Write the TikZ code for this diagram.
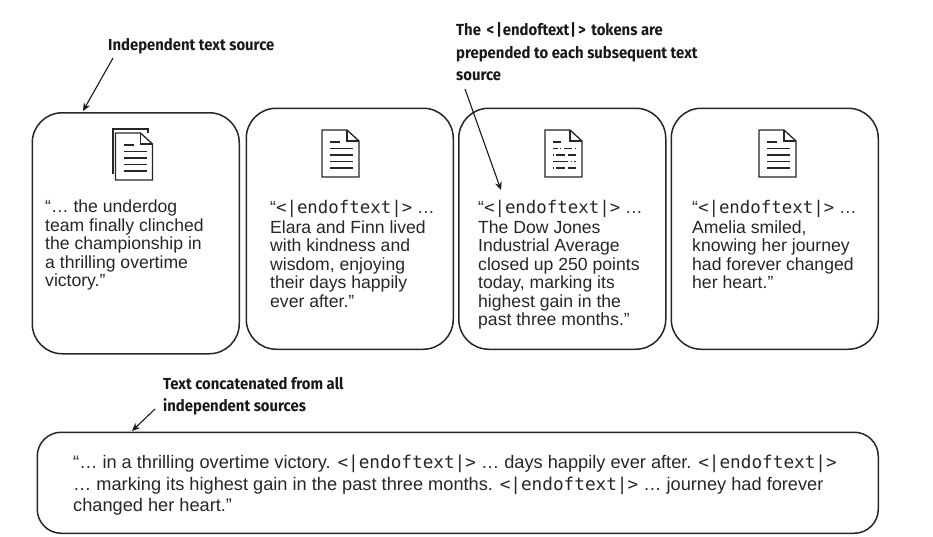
\documentclass[tikz,border=0pt]{standalone}
\usepackage{fontspec}
\setmainfont{Liberation Sans}
\setmonofont{DejaVu Sans Mono}
\newfontfamily\labelfont[BoldFont=* Bold,BoldFeatures={FakeStretch=0.93}]{Fira Sans}
\usetikzlibrary{arrows.meta}
\newcommand{\tok}{{\ttfamily\fontsize{17.4}{18.5}\selectfont <|endoftext|>}}
\newcommand{\tokb}{{\ttfamily\fontsize{17.7}{18.5}\selectfont <|endoftext|>}}
\newcommand{\tokl}{\kern2pt<\kern2pt|\kern1pt endoftext\kern1pt|\kern2pt>\kern2pt}
\tikzset{
  srcbox/.style={draw=black!85,line width=1.5pt,rounded corners=30pt,inner sep=0pt,minimum width=207pt,minimum height=241pt,anchor=north west},
  bodytext/.style={anchor=north west,inner sep=0pt,align=left,text=black!85,font=\fontsize{17.6}{18.5}\selectfont},
  notetext/.style={anchor=north west,inner sep=0pt,align=left,text=black!90,font=\labelfont\bfseries\fontsize{16}{22.5}\selectfont},
  callout/.style={draw=black!90,line width=1.1pt,-{Stealth[length=8pt,width=7pt]}},
  docline/.style={draw=black!85,line width=1.2pt},
  pics/docicon/.style={code={
    \draw[docline,fill=white,line width=1.3pt] (0,0) -- (25,0) -- (37,11) -- (37,47) -- (0,47) -- cycle;
    \draw[docline,line width=1.3pt] (25,0) -- (25,11) -- (37,11);
  }},
  pics/plainlines/.style={code={
    \draw[docline] (8,12) -- (18,12);
    \foreach \yy in {18.5,25,31.5,38}{\draw[docline] (8,\yy) -- (31,\yy);}
  }},
  pics/dashlines/.style={code={
    \draw[docline] (8,12) -- (16,12);
    \draw[docline] (8,18.5) -- (13,18.5) (15,18.5) -- (16,18.5) (19,18.5) -- (27,18.5) (30,18.5) -- (31,18.5);
    \draw[docline] (8,25) -- (9,25) (11,25) -- (20,25) (23,25) -- (31,25);
    \draw[docline] (8,31.5) -- (23,31.5) (26,31.5) -- (27,31.5) (29,31.5) -- (31,31.5);
    \draw[docline] (8,38) -- (9,38) (11,38) -- (20,38) (23,38) -- (31,38);
  }}
}
\begin{document}
\begin{tikzpicture}[x=1pt,y=-1pt]
\useasboundingbox (0,0) rectangle (933,536);
% boxes
\node[srcbox] (boxa) at (31.5,112) {};
\node[srcbox] (boxb) at (245.5,107.5) {};
\node[srcbox] (boxc) at (458,107.5) {};
\node[srcbox] (boxd) at (670.5,107.5) {};
\node[srcbox,minimum width=841pt,minimum height=101pt,rounded corners=24pt] (boxe) at (36.5,431.5) {};
% icons
\draw[docline,line width=1.3pt] (113,174) -- (113,129) -- (148,129) -- (148,133);
\pic at (115.5,133) {docicon};
\pic at (115.5,133) {plainlines};
\pic at (322,130) {docicon};
\pic at (322,130) {plainlines};
\pic at (545,130) {docicon};
\pic at (545,130) {dashlines};
\pic at (759,130) {docicon};
\pic at (759,130) {plainlines};
% body text
\node[bodytext] (ta) at (45,200) {“… the underdog\\team finally clinched\\the championship in\\a thrilling overtime\\victory.”};
\node[bodytext] (tb) at (270,200) {“\tok{} …\\[1pt]Elara and Finn lived\\with kindness and\\wisdom, enjoying\\their days happily\\ever after.”};
\node[bodytext] (tc) at (478,200) {“\tok{} …\\[1pt]The Dow Jones\\Industrial Average\\closed up 250 points\\today, marking its\\highest gain in the\\past three months.”};
\node[bodytext] (td) at (692,200) {“\tok{} …\\[1pt]Amelia smiled,\\knowing her journey\\had forever changed\\her heart.”};
\node[bodytext,font=\fontsize{18.2}{21.5}\selectfont] (te) at (73,455) {“… in a thrilling overtime victory. \tokb{} … days happily ever after. \tokb\\… marking its highest gain in the past three months. \tokb{} … journey had forever\\changed her heart.”};
% notes
\node[notetext] (na) at (108,38.5) {Independent text source};
\node[notetext] (nb) at (456,22.5) {The \tokl{} tokens are\\prepended to each subsequent text\\source};
\node[notetext] (nc) at (163,377) {Text concatenated from all\\independent sources};
% connectors
\coordinate (sa) at (113,58);
\coordinate (ea) at (83,111);
\coordinate (sb) at (465,89);
\coordinate (eb) at (501,190);
\coordinate (sc) at (155,409);
\coordinate (ec) at (132,431);
\draw[callout] (sa) -- (ea);
\draw[callout] (sb) -- (eb);
\draw[callout] (sc) -- (ec);
\end{tikzpicture}
\end{document}
